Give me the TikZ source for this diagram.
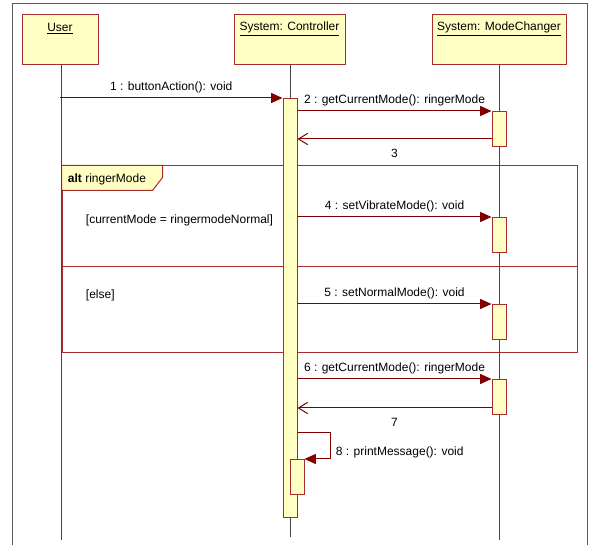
\documentclass[tikz,border=0pt]{standalone}
\usepackage{fontspec}
\setmainfont{Liberation Sans}
\usetikzlibrary{arrows.meta}

\definecolor{umlred}{RGB}{128,0,0}
\definecolor{boxred}{RGB}{165,45,45}
\definecolor{umlyellow}{RGB}{255,255,195}
\definecolor{lifegray}{RGB}{70,70,70}
\definecolor{framegray}{RGB}{90,90,90}

\tikzset{every picture/.style={line width=0.75pt}}
\tikzset{
  objbox/.style={draw=boxred,fill=umlyellow,minimum height=37.5pt,inner sep=0pt},
  actbox/.style={draw=boxred,fill=umlyellow,minimum width=10.5pt,inner sep=0pt,anchor=north},
  lifeline/.style={draw=lifegray},
  fragbox/.style={draw=boxred,inner sep=0pt},
  msg/.style={draw=umlred,-{Triangle[length=8.5pt,width=7.5pt]}},
  retmsg/.style={draw=umlred,-{Straight Barb[length=7pt,width=8.5pt]}},
}

\begin{document}
\begin{tikzpicture}[x=0.75pt,y=0.75pt,yscale=-1,xscale=1,font=\fontsize{9}{11}\selectfont]
\useasboundingbox (0,0) rectangle (590,545);

%Outer frame
\draw [framegray] (12,545) -- (12,4) -- (587,4) -- (587,545) ;

%Alt fragment
\node [fragbox,minimum width=386.25pt,minimum height=140.25pt] (alt) at (319.5,259.5) {};
\draw [boxred] (alt.west |- 0,267) -- (alt.east |- 0,267) ;
\draw [boxred,fill=umlyellow] (alt.north west) -- ++(101,0) -- ++(0,12) -- ++(-10,13) -- ++(-91,0) -- cycle ;

%Objects
\node [objbox,minimum width=57pt] (user) at (60,40) {};
\node [objbox,minimum width=83.25pt] (ctrl) at (289.5,40) {};
\node [objbox,minimum width=100.5pt] (mode) at (499,40) {};

%Lifelines
\coordinate (userend) at (61,540);
\coordinate (ctrlend) at (290,537);
\coordinate (modeend) at (499,540);
\draw [lifeline] (user.south -| userend) -- (userend) ;
\draw [lifeline] (ctrl.south -| ctrlend) -- (ctrlend) ;
\draw [lifeline] (mode.south -| modeend) -- (modeend) ;

%Activations
\node [actbox,minimum height=314.25pt] (ca) at (290,98) {};
\node [actbox,minimum height=26.25pt] (mca1) at (499,111) {};
\node [actbox,minimum height=26.25pt] (mca2) at (499,217) {};
\node [actbox,minimum height=26.25pt] (mca3) at (499,304) {};
\node [actbox,minimum height=26.25pt] (mca4) at (499,379) {};
\node [actbox,minimum height=26.25pt] (na) at (297,459) {};

% Text Node
\node (userlbl) at (user.north |- 0,29) {\underline{User}};
\node (ctrllbl) at (ctrl.north |- 0,29) {\underline{System: Controller}};
\node (modelbl) at (mode.north |- 0,29) {\underline{System: ModeChanger}};
\node [anchor=west] (alttxt) at (63,179) {\textbf{alt} ringerMode};
\node [anchor=west] (guard1) at (81,220) {[currentMode = ringermodeNormal]};
\node [anchor=west] (guard2) at (81,295) {[else]};

%Messages
\draw [msg] (user.south |- ca.north) -- node [above=0pt] (lbl1) {1 : buttonAction(): void} (ca.north west) ;
\draw [msg] (ca.east |- mca1.north) -- node [above=0pt] (lbl2) {2 : getCurrentMode(): ringerMode} (mca1.north west) ;
\coordinate (r3) at (499,139);
\draw [retmsg] (mca1.west |- r3) -- node [below=4pt] (lbl3) {3} (ca.east |- r3) ;
\draw [msg] (ca.east |- mca2.north) -- node [above=0pt] (lbl4) {4 : setVibrateMode(): void} (mca2.north west) ;
\draw [msg] (ca.east |- mca3.north) -- node [above=0pt] (lbl5) {5 : setNormalMode(): void} (mca3.north west) ;
\draw [msg] (ca.east |- mca4.north) -- node [above=0pt] (lbl6) {6 : getCurrentMode(): ringerMode} (mca4.north west) ;
\coordinate (r7) at (499,408);
\draw [retmsg] (mca4.west |- r7) -- node [below=4pt] (lbl7) {7} (ca.east |- r7) ;
\coordinate (s8) at (330,433);
\draw [msg] (ca.east |- s8) -- (s8) -- (s8 |- na.north) -- (na.north east) ;
\node [anchor=west] (lbl8) at (331,452) {8 : printMessage(): void};

\end{tikzpicture}
\end{document}
